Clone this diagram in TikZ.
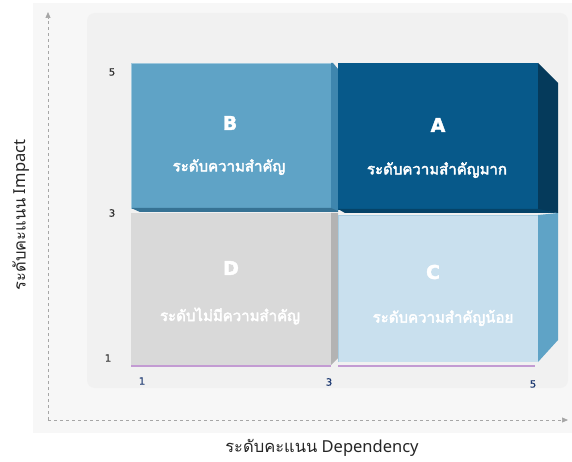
\documentclass[tikz,border=0pt]{standalone}
\usepackage{fontspec}
\newfontfamily\thaifont[Script=Thai]{Loma}
\newfontfamily\thaibold[Script=Thai,FakeBold=3]{Loma}
\newfontfamily\latinbold{DejaVu Sans}[FakeBold=2]
\newfontfamily\numfont{DejaVu Sans}[FakeBold=1]
\setmainfont{Noto Sans}
\usetikzlibrary{arrows.meta}
\definecolor{bgouter}{HTML}{F7F7F7}
\definecolor{bginner}{HTML}{F1F1F1}
\definecolor{axisgray}{HTML}{A6A6A6}
\definecolor{bfront}{HTML}{5FA3C6}
\definecolor{bside}{HTML}{3F86AE}
\definecolor{afront}{HTML}{07598A}
\definecolor{aside}{HTML}{053A5B}
\definecolor{cfront}{HTML}{C9E0EE}
\definecolor{cside}{HTML}{5FA3C6}
\definecolor{dfront}{HTML}{D9D9D9}
\definecolor{dside}{HTML}{B3B3B3}
\definecolor{pinkline}{HTML}{C39BD3}
\definecolor{navy}{HTML}{1F3B73}
\definecolor{numgray}{HTML}{333333}
\tikzset{
  letterlbl/.style={text=white,font=\latinbold\bfseries\fontsize{19}{22}\selectfont},
  thailbl/.style={text=white,font=\thaibold\fontsize{15}{17}\selectfont},
  ynum/.style={text=numgray,font=\numfont\fontsize{10}{11}\selectfont},
  xnum/.style={text=navy,font=\numfont\fontsize{10}{11}\selectfont},
  axtitle/.style={text=black!85,font=\fontsize{16.5}{18}\selectfont},
  axisline/.style={draw=axisgray,dashed,line width=0.7pt,-{Triangle[length=6pt,width=5pt]}},
  purpleline/.style={draw=pinkline,line width=1.6pt}
}
\begin{document}
\begin{tikzpicture}[x=1pt,y=-1pt]
\useasboundingbox (0,0) rectangle (572,462);
\fill[white] (0,0) rectangle (572,462);
% backgrounds
\fill[bgouter] (33,3) rectangle (572,433);
\fill[bginner,rounded corners=8pt] (87,13) rectangle (568,388);
% axes
\coordinate (origin) at (48,420);
\coordinate (ytop) at (48,12);
\coordinate (xend) at (568,420);
\draw[axisline] (origin) -- (ytop);
\draw[axisline] (origin) -- (xend);
% Box B
\fill[bfront] (131,63) rectangle (331,209);
\fill[bside] (331,63) -- (333,63) -- (338,69) -- (338,211) -- (331,209) -- cycle;
\fill[bside!85!black] (131,208) -- (331,208) -- (338,211) -- (338,212) -- (140,212) -- cycle;
\draw[bfront!60!white,line width=0.8pt] (131.5,209) -- (131.5,63.5) -- (331,63.5);
% Box A
\fill[afront] (338,63) rectangle (538,210);
\fill[aside] (538,63) -- (558,83) -- (558,213) -- (538,210) -- cycle;
\fill[afront!75!black] (338,209) -- (538,209) -- (558,213) -- (345,213) -- cycle;
% Box D
\fill[dfront] (131,213) rectangle (331,365);
\fill[dside] (331,213) -- (338,213) -- (338,358) -- (331,365) -- cycle;
% Box C
\fill[cfront] (338,215) rectangle (538,362);
\fill[cside] (538,215) -- (558,213) -- (558,340) -- (538,362) -- cycle;
\draw[cfront!70!cside,line width=0.8pt] (338.5,362) -- (338.5,215.5) -- (538,215.5);
% purple base lines
\coordinate (p1a) at (131,366);
\coordinate (p1b) at (331,366);
\coordinate (p2a) at (338,366);
\coordinate (p2b) at (535,366);
\draw[purpleline] (p1a) -- (p1b);
\draw[purpleline] (p2a) -- (p2b);
% box labels
\node[letterlbl] (lB) at (230,123) {B};
\node[thailbl] (tB) at (229,167) {ระดับความสำคัญ};
\node[letterlbl] (lA) at (438,125) {A};
\node[thailbl] (tA) at (437,170) {ระดับความสำคัญมาก};
\node[letterlbl] (lD) at (231,268) {D};
\node[thailbl] (tD) at (230,316) {ระดับไม่มีความสำคัญ};
\node[letterlbl] (lC) at (433,272) {C};
\node[thailbl] (tC) at (443,318) {ระดับความสำคัญน้อย};
% axis numbers
\node[ynum] (y5) at (112,72) {5};
\node[ynum] (y3) at (112,213) {3};
\node[ynum] (y1) at (108,358) {1};
\node[xnum] (x1) at (142,381) {1};
\node[xnum] (x3) at (329,382) {3};
\node[xnum] (x5) at (533,384) {5};
% axis titles
\node[axtitle,rotate=90] (ytitle) at (21,215) {{\thaifont ระดับคะแนน} Impact};
\node[axtitle] (xtitle) at (322,448) {{\thaifont ระดับคะแนน} Dependency};
\end{tikzpicture}
\end{document}
